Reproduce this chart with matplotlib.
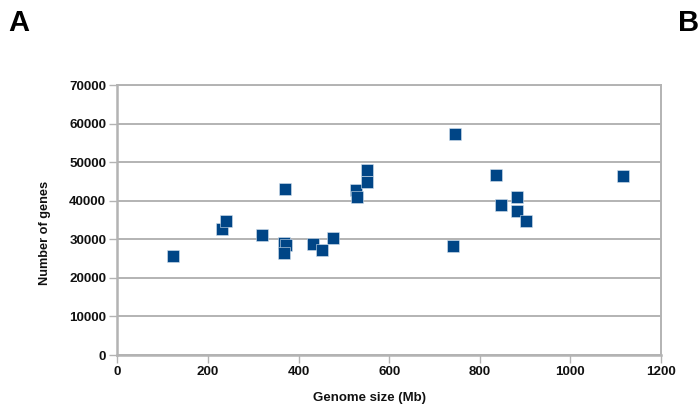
import matplotlib
matplotlib.use("Agg")
import matplotlib.pyplot as plt

plt.rcParams['font.family'] = ['Liberation Sans', 'DejaVu Sans']

genome_size = [124, 231, 241, 320, 371, 368, 372, 368, 431, 451, 476, 527, 530,
               552, 552, 745, 741, 835, 846, 883, 883, 902, 1117]
num_genes = [25600, 32800, 34700, 31200, 43200, 29200, 28600, 26600, 28800, 27300,
             30300, 42750, 41000, 48000, 45000, 57400, 28200, 46700, 38900, 40900,
             37500, 34700, 46400]
x_ticks = [0, 200, 400, 600, 800, 1000, 1200]
y_ticks = [0, 10000, 20000, 30000, 40000, 50000, 60000, 70000]

fig = plt.figure(figsize=(6.99, 4.08), dpi=100)
ax = fig.add_axes([0.1678, 0.1299, 0.9456 - 0.1678, 0.7909 - 0.1299])

grid_c = '#b3b3b3'
ax.set_xlim(0, 1200)
ax.set_ylim(0, 70000)
ax.set_xticks(x_ticks)
ax.set_yticks(y_ticks)
ax.set_xticklabels([str(v) for v in x_ticks], fontsize=9.6, fontweight='bold')
ax.set_yticklabels([str(v) for v in y_ticks], fontsize=9.6, fontweight='bold')
ax.yaxis.grid(True, color=grid_c, linewidth=1.4)
ax.set_axisbelow(True)
for s in ax.spines.values():
    s.set_color(grid_c)
    s.set_linewidth(1.4)
ax.spines['left'].set_linewidth(1.8)
ax.spines['bottom'].set_linewidth(1.8)
ax.tick_params(axis='both', direction='out', length=6, width=1, color=grid_c,
               labelcolor='#111111', pad=2)

ax.scatter(genome_size, num_genes, marker='s', s=70, color='#004586',
           edgecolors='#d6e2ee', linewidths=0.4, zorder=3, clip_on=False)

fig.text(0.529, 0.0233, 'Genome size (Mb)', fontsize=9.5, fontweight='bold',
         ha='center', va='center', color='#111111')
fig.text(0.0644, 0.429, 'Number of genes', fontsize=9.2, fontweight='bold',
         rotation=90, ha='center', va='center', color='#111111')

fig.text(0.012, 0.978, 'A', fontsize=21, fontweight='bold', ha='left', va='top')
fig.text(0.970, 0.978, 'B', fontsize=21, fontweight='bold', ha='left', va='top')

fig.savefig('out.png', dpi=100)
